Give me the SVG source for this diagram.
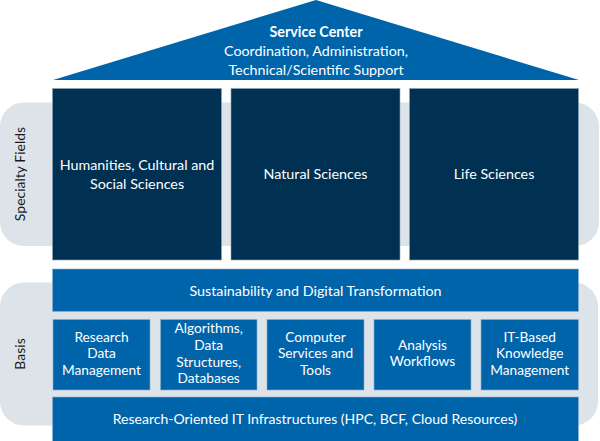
<svg xmlns="http://www.w3.org/2000/svg" width="600" height="441" viewBox="0 0 600 441">
<style>
.band{fill:#dce3e9}
.dark{fill:#003152;stroke:#8ea4b8;stroke-width:0.6}
.blue{fill:#0064ab;stroke:#8fb0cf;stroke-width:0.6}
.roof{fill:#0064ab}
text{font-family:Lato,"Liberation Sans",sans-serif;fill:#ffffff;text-anchor:middle}
.t15{font-size:14.3px}
.t14{font-size:13.7px}
.side{font-size:14px;fill:#1a1a1a}
.b{font-weight:bold}
</style>
<rect class="band" x="0" y="102.5" width="599" height="143.5" rx="24"/>
<rect class="band" x="0" y="282.5" width="598" height="143" rx="24"/>
<text class="side" transform="translate(25,174) rotate(-90)">Specialty Fields</text>
<text class="side" transform="translate(25,354) rotate(-90)">Basis</text>

<g id="service-center">
<polygon class="roof" points="53,80 316,0 579,80"/>
<text class="t15 b" x="316" y="37">Service Center</text>
<text class="t15" x="316" y="56">Coordination, Administration,</text>
<text class="t15" x="316" y="74.5">Technical/Scientific Support</text>
</g>

<g id="humanities">
<rect class="dark" x="52.5" y="88.5" width="169" height="171.5"/>
<text class="t15" x="137" y="170">Humanities, Cultural and</text>
<text class="t15" x="137" y="189">Social Sciences</text>
</g>
<g id="natural">
<rect class="dark" x="231" y="88.5" width="169" height="171.5"/>
<text class="t15" x="315.5" y="179">Natural Sciences</text>
</g>
<g id="life">
<rect class="dark" x="409.5" y="88.5" width="169" height="171.5"/>
<text class="t15" x="494" y="179">Life Sciences</text>
</g>

<g id="sustainability">
<rect class="blue" x="52.5" y="269" width="526" height="42.5"/>
<text class="t15" x="315.5" y="296">Sustainability and Digital Transformation</text>
</g>

<g id="rdm">
<rect class="blue" x="53" y="319.5" width="97" height="70.5"/>
<text class="t14" x="101.5" y="341.7">Research</text>
<text class="t14" x="101.5" y="358.3">Data</text>
<text class="t14" x="101.5" y="375">Management</text>
</g>
<g id="algorithms">
<rect class="blue" x="160.5" y="319.5" width="96.5" height="70.5"/>
<text class="t14" x="208.7" y="333.3">Algorithms,</text>
<text class="t14" x="208.7" y="350">Data</text>
<text class="t14" x="208.7" y="366.7">Structures,</text>
<text class="t14" x="208.7" y="383.3">Databases</text>
</g>
<g id="computer">
<rect class="blue" x="267" y="319.5" width="97" height="70.5"/>
<text class="t14" x="315.5" y="341.7">Computer</text>
<text class="t14" x="315.5" y="358.3">Services and</text>
<text class="t14" x="315.5" y="375">Tools</text>
</g>
<g id="analysis">
<rect class="blue" x="374" y="319.5" width="97" height="70.5"/>
<text class="t14" x="422.5" y="350">Analysis</text>
<text class="t14" x="422.5" y="366">Workflows</text>
</g>
<g id="knowledge">
<rect class="blue" x="481" y="319.5" width="97.5" height="70.5"/>
<text class="t14" x="529.7" y="341.7">IT-Based</text>
<text class="t14" x="529.7" y="358.3">Knowledge</text>
<text class="t14" x="529.7" y="375">Management</text>
</g>

<g id="infrastructure">
<rect class="blue" x="52.5" y="397" width="526" height="46"/>
<text style="font-size:14px" x="315" y="423.5">Research-Oriented IT Infrastructures (HPC, BCF, Cloud Resources)</text>
</g>
<g id="connectors"/>
</svg>
